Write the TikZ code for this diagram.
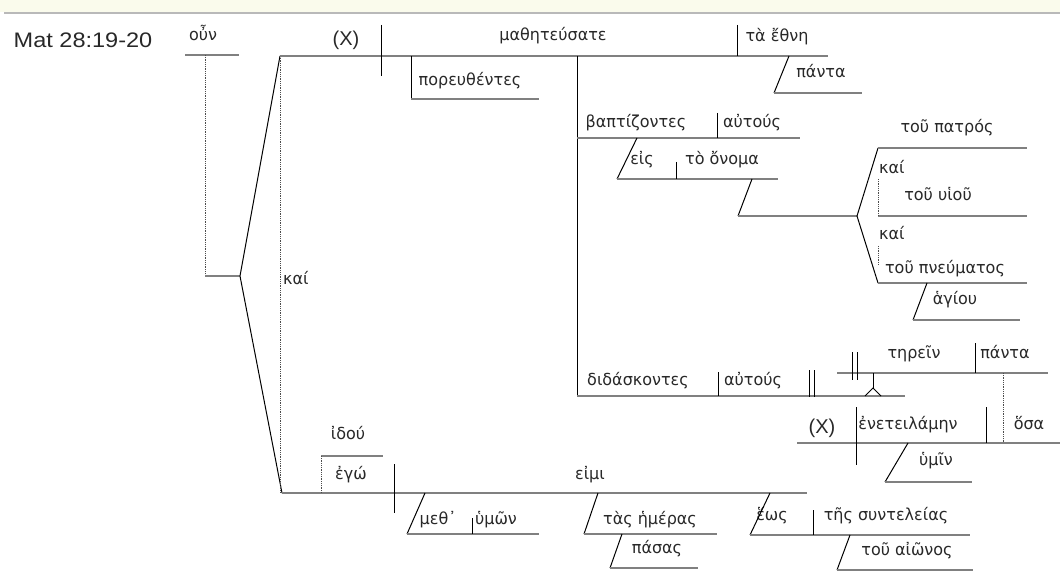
\documentclass[tikz,border=0pt]{standalone}
\usepackage{fontspec}
\setmainfont{Liberation Sans}
\newfontfamily\gk{DejaVu Sans}[FakeStretch=0.97]
\newfontfamily\latw{Liberation Sans}[FakeStretch=1.12]
\definecolor{lg}{RGB}{128,128,128}
\definecolor{txt}{RGB}{40,40,40}
\definecolor{band}{RGB}{250,251,236}
\tikzset{
  baseln/.style={draw=lg, line width=1.6pt},
  vert/.style={draw=black, line width=1pt},
  slant/.style={draw=black, line width=1pt},
  dotln/.style={draw=black!70, densely dotted, line width=0.8pt},
  gk/.style={font=\gk\fontsize{16.5}{16.5}\selectfont, text=txt, inner sep=0pt, anchor=mid},
  gkl/.style={gk, anchor=mid west},
  lat/.style={font=\fontsize{20}{20}\selectfont, text=txt, inner sep=0pt}
}
\begin{document}
\begin{tikzpicture}[x=1pt,y=-1pt]
\useasboundingbox (0,0) rectangle (1060,572);
\fill[band] (0,0) rectangle (1060,12);
\draw[gray!55, line width=1.5pt] (4,13) -- (1060,13);

% labels
\node[lat, font=\latw\fontsize{21}{21}\selectfont] (ref) at (83,40) {Mat 28:19-20};
\node[lat] (x1) at (346,40) {(X)};
\node[gk] (oun) at (203,38) {οὖν};
\node[gk] (mathe) at (553,38) {μαθητεύσατε};
\node[gk] (ethne) at (777,39) {τὰ ἔθνη};
\node[gk] (panta1) at (821,75) {πάντα};
\node[gk] (poreu) at (470,83) {πορευθέντες};
\node[gk] (bapt) at (636,125) {βαπτίζοντες};
\node[gk] (autous1) at (752,125) {αὐτούς};
\node[gk] (eis) at (642,162) {εἰς};
\node[gk] (onoma) at (722,162) {τὸ ὄνομα};
\node[gk] (patros) at (947,130) {τοῦ πατρός};
\node[gkl] (kai1) at (879,171) {καί};
\node[gk] (huiou) at (938,198) {τοῦ υἱοῦ};
\node[gkl] (kai2) at (879,237) {καί};
\node[gk] (pneum) at (945,271) {τοῦ πνεύματος};
\node[gk] (hagiou) at (955,302) {ἁγίου};
\node[gk] (didask) at (638,383) {διδάσκοντες};
\node[gk] (autous2) at (753,383) {αὐτούς};
\node[gk] (terein) at (914,356) {τηρεῖν};
\node[gk] (panta2) at (1005,356) {πάντα};
\node[lat] (x2) at (822,428) {(X)};
\node[gk] (enet) at (908,427) {ἐνετειλάμην};
\node[gk] (hosa) at (1029,427) {ὅσα};
\node[gk] (humin) at (936,463) {ὑμῖν};
\node[gk] (idou) at (348,437) {ἰδού};
\node[gk] (ego) at (351,477) {ἐγώ};
\node[gk] (eimi) at (590,477) {εἰμι};
\node[gk] (meth) at (438,522) {μεθ᾽};
\node[gk] (humon) at (496,522) {ὑμῶν};
\node[gk] (hemeras) at (650,522) {τὰς ἡμέρας};
\node[gk] (pasas) at (657,551) {πάσας};
\node[gk] (heos) at (772,518) {ἕως};
\node[gk] (sunt) at (886,518) {τῆς συντελείας};
\node[gk] (aionos) at (907,553) {τοῦ αἰῶνος};
\node[gkl] (kai0) at (283,282) {καί};

% left conjunction structure
\draw[baseln] (185,55) -- (239,55);
\draw[dotln] (205,55) -- (205,276);
\draw[baseln] (205,276) -- (240,276);
\draw[slant] (280,56) -- (240,276) -- (282,493);
\draw[dotln] (280,56) -- (280,493);

% first clause
\draw[baseln] (280,56) -- (828,56);
\draw[vert] (381,25) -- (381,76);
\draw[vert] (737,25) -- (737,56);
\draw[slant] (789,56) -- (774,93);
\draw[baseln] (774,93) -- (862,93);
\draw[vert] (411,56) -- (411,99);
\draw[baseln] (411,99) -- (539,99);
\draw[vert] (577,56) -- (577,396);

% baptizontes
\draw[baseln] (577,138) -- (800,138);
\draw[vert] (717,113) -- (717,138);
\draw[slant] (637,138) -- (617,179);
\draw[baseln] (617,179) -- (778,179);
\draw[vert] (676,162) -- (676,179);
\draw[slant] (752,179) -- (738,216);
\draw[baseln] (738,216) -- (857,216);
\draw[slant] (878,148) -- (857,216) -- (878,283);
\draw[baseln] (878,148) -- (1027,148);
\draw[baseln] (878,216) -- (1027,216);
\draw[baseln] (878,283) -- (1027,283);
\draw[dotln] (878,179) -- (878,216);
\draw[dotln] (878,246) -- (878,265);
\draw[slant] (927,283) -- (913,320);
\draw[baseln] (913,320) -- (1020,320);

% didaskontes
\draw[baseln] (577,396) -- (905,396);
\draw[vert] (718,372) -- (718,396);
\draw[vert] (809,370) -- (809,397);
\draw[vert] (814,370) -- (814,397);
\draw[baseln] (837,373) -- (1048,373);
\draw[vert] (852,352) -- (852,380);
\draw[vert] (857,352) -- (857,380);
\draw[vert] (975,343) -- (975,373);
\draw[vert] (873,373) -- (873,388);
\draw[vert] (865,396) -- (873,388) -- (881,396);
\draw[dotln] (1003,373) -- (1003,443);
\draw[baseln] (797,443) -- (1060,443);
\draw[vert] (856,407) -- (856,465);
\draw[vert] (986,407) -- (986,443);
\draw[slant] (908,443) -- (885,482);
\draw[baseln] (885,482) -- (972,482);

% second clause
\draw[baseln] (282,493) -- (807,493);
\draw[baseln] (321,456) -- (383,456);
\draw[dotln] (321,456) -- (321,493);
\draw[vert] (394,464) -- (394,513);
\draw[slant] (425,493) -- (407,534);
\draw[baseln] (407,534) -- (539,534);
\draw[vert] (472,518) -- (472,534);
\draw[slant] (598,493) -- (584,534);
\draw[baseln] (584,534) -- (717,534);
\draw[slant] (622,534) -- (610,568);
\draw[baseln] (610,568) -- (698,568);
\draw[slant] (770,493) -- (750,535);
\draw[baseln] (750,535) -- (970,535);
\draw[vert] (813,510) -- (813,535);
\draw[slant] (850,535) -- (837,570);
\draw[baseln] (837,570) -- (973,570);
\end{tikzpicture}
\end{document}
